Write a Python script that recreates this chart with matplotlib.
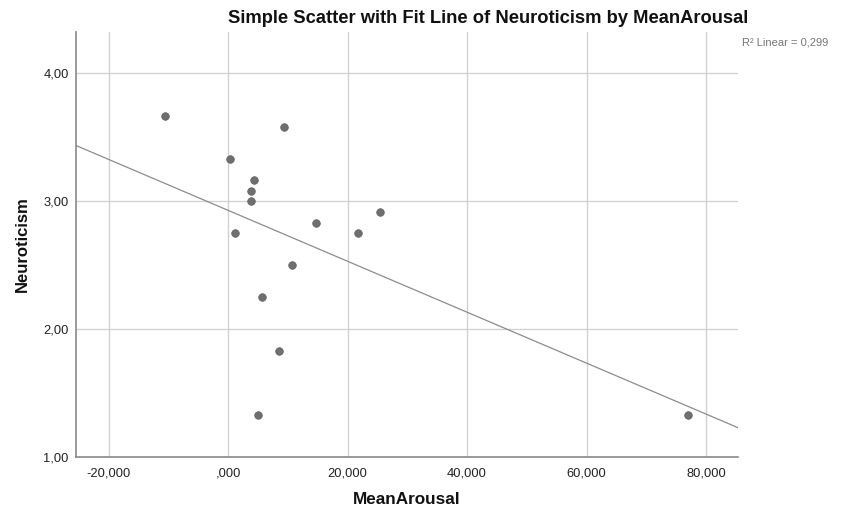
import numpy as np
import matplotlib
matplotlib.use("Agg")
import matplotlib.pyplot as plt
from matplotlib.ticker import FuncFormatter

plt.rcParams['font.family'] = ['Liberation Sans', 'DejaVu Sans']

# MeanArousal and Neuroticism per participant
mean_arousal = [-10550, 9280, 230, 4360, 3860, 3860, 14740, 25360, 21680,
                1170, 10720, 5700, 8520, 5030, 77050]
neuroticism = [3.667, 3.583, 3.333, 3.167, 3.083, 3.000, 2.833, 2.917, 2.750,
               2.750, 2.500, 2.250, 1.833, 1.333, 1.333]

x_ticks = [-20000, 0, 20000, 40000, 60000, 80000]
y_ticks = [1.0, 2.0, 3.0, 4.0]

x = np.array(mean_arousal, dtype=float)
y = np.array(neuroticism, dtype=float)
slope, intercept = np.polyfit(x, y, 1)
r2 = np.corrcoef(x, y)[0, 1] ** 2

fig = plt.figure(figsize=(8.41, 5.08), dpi=100)
ax = fig.add_axes([0.090, 0.0998, 0.787, 0.8378])

xlim = (-25560, 85300)
ylim = (1.0, 4.325)
ax.set_xlim(*xlim)
ax.set_ylim(*ylim)

ax.set_xticks(x_ticks)
ax.set_yticks(y_ticks)
ax.grid(True, color='#d2d2d2', linewidth=1.0)
ax.set_axisbelow(True)


def fmt_x(v, pos):
    iv = int(round(v / 1000))
    return ',000' if iv == 0 else f"{iv},000"


def fmt_y(v, pos):
    return f"{v:.2f}".replace('.', ',')


ax.xaxis.set_major_formatter(FuncFormatter(fmt_x))
ax.yaxis.set_major_formatter(FuncFormatter(fmt_y))
ax.tick_params(axis='both', length=0, labelsize=9.3, colors='#222222')
ax.tick_params(axis='x', pad=7)
ax.tick_params(axis='y', pad=5)

for side in ('top', 'right'):
    ax.spines[side].set_visible(False)
for side in ('left', 'bottom'):
    ax.spines[side].set_color('#8a8a8a')
    ax.spines[side].set_linewidth(1.2)

# fit line across the full x range
xs = np.array(xlim)
ax.plot(xs, intercept + slope * xs, color='#8c8c8c', linewidth=0.9, zorder=2)

ax.scatter(x, y, s=30, color='#6f6f6f', edgecolors='#5e5e5e',
           linewidths=0.5, zorder=3)

fig.text(0.5803, 0.963, 'Simple Scatter with Fit Line of Neuroticism by MeanArousal',
         ha='center', va='center', fontsize=13.2, fontweight='bold', color='#111111')
fig.text(0.882, 0.916, f"R\u00b2 Linear = {r2:.3f}".replace('.', ','),
         ha='left', va='center', fontsize=8, color='#777777')

ax.set_xlabel('MeanArousal', fontsize=12.3, fontweight='bold', color='#111111', labelpad=9)
ax.set_ylabel('Neuroticism', fontsize=12, fontweight='bold', color='#111111', labelpad=10)

fig.savefig('out.png', dpi=100, facecolor='white')
